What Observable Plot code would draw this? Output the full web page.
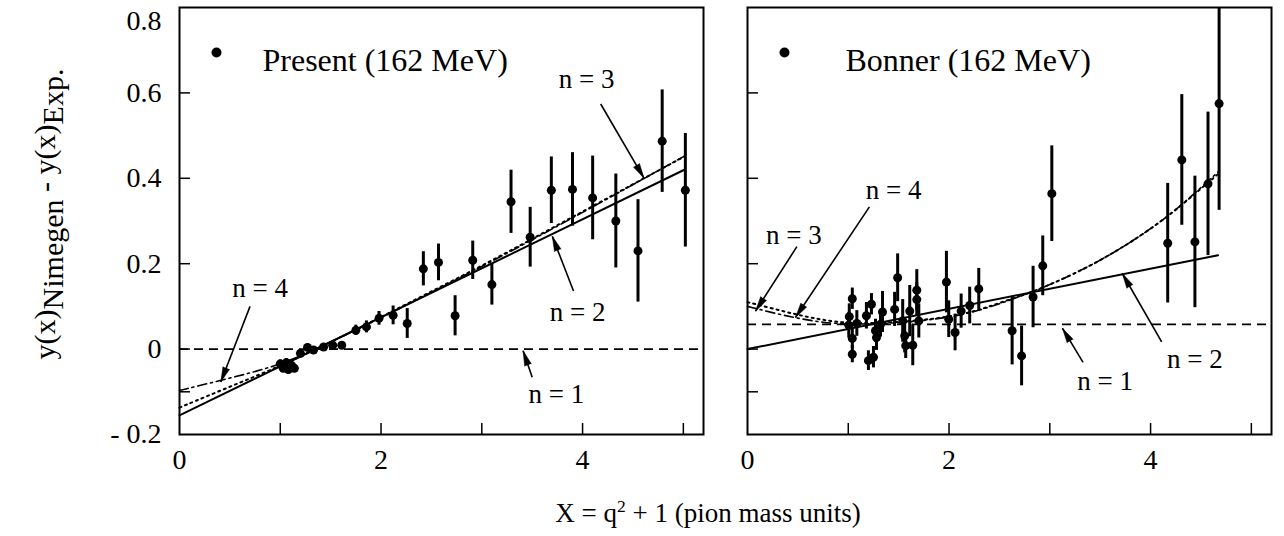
<!DOCTYPE html>
<html>
<head>
<meta charset="utf-8">
<script src="https://cdn.jsdelivr.net/npm/d3@7"></script>
<script src="https://cdn.jsdelivr.net/npm/@observablehq/plot@0.6"></script>
<style>
  body { margin: 0; background: #fff; }
  #wrap { position: relative; width: 1284px; height: 536px; font-family: "Liberation Serif", "Times New Roman", Tinos, "DejaVu Serif", serif; color: #000; overflow: hidden; }
  #left { position: absolute; left: 0; top: 0; }
  #right { position: absolute; left: 725px; top: 0; }
  #ylab { position: absolute; left: 45px; top: 214px; transform: translate(-50%, -50%) rotate(-90deg); white-space: nowrap; font-size: 30px; }
  #ylab .sub { position: relative; top: 0.28em; }
  #xlab { position: absolute; left: 708px; top: 512px; transform: translate(-50%, -50%); white-space: nowrap; font-size: 27px; }
  svg text { font-family: "Liberation Serif", "Times New Roman", Tinos, "DejaVu Serif", serif; }
</style>
</head>
<body>
<div id="wrap">
  <div id="left"></div>
  <div id="right"></div>
  <div id="ylab">y(x)<span class="sub">Nimegen</span> - y(x)<span class="sub">Exp.</span></div>
  <div id="xlab">X = q<sup style="font-size:0.65em">2</sup> + 1 (pion mass units)</div>
</div>
<script>
// ---------- axis definitions ----------
const xDomain = [0, 5.2];
const yDomain = [-0.2, 0.8];
const xTickMarks = [1, 2, 3, 4, 5];
const yTickMarks = [-0.1, 0, 0.2, 0.4, 0.6];
const xTickLabels = [0, 2, 4];
const yTickLabels = [-0.2, 0, 0.2, 0.4, 0.6];
const yTopLabel = [0.8];

// ---------- left panel: Present (162 MeV) ----------
const presentX = [1.00, 1.03, 1.06, 1.08, 1.11, 1.14, 1.20, 1.27, 1.33, 1.43, 1.52, 1.61, 1.75, 1.855, 1.98, 2.12, 2.26, 2.42, 2.57, 2.735, 2.91, 3.10, 3.29, 3.48, 3.69, 3.90, 4.10, 4.33, 4.55, 4.79, 5.02];
const presentY = [-0.035, -0.045, -0.032, -0.048, -0.038, -0.045, -0.010, 0.004, -0.002, 0.005, 0.009, 0.009, 0.044, 0.052, 0.072, 0.079, 0.060, 0.188, 0.203, 0.078, 0.208, 0.151, 0.345, 0.262, 0.372, 0.374, 0.354, 0.300, 0.230, 0.487, 0.372];
const presentErr = [0.010, 0.010, 0.010, 0.010, 0.010, 0.010, 0.008, 0.008, 0.008, 0.008, 0.008, 0.008, 0.012, 0.014, 0.016, 0.022, 0.035, 0.040, 0.043, 0.047, 0.045, 0.048, 0.074, 0.070, 0.078, 0.086, 0.098, 0.110, 0.120, 0.120, 0.133];

const leftN1 = 0;
const leftN2X = [0, 5.01];
const leftN2Y = [-0.155, 0.42];
const leftN3X = [0, 0.5, 1, 1.5, 2, 2.5, 3, 3.5, 4, 4.5, 5.01];
const leftN3Y = [-0.137, -0.088, -0.040, 0.016, 0.075, 0.135, 0.195, 0.258, 0.322, 0.386, 0.451];
const leftN4X = [0, 0.5, 1, 1.5, 2, 2.5, 3, 3.5, 4, 4.5, 5.01];
const leftN4Y = [-0.097, -0.068, -0.038, 0.016, 0.073, 0.133, 0.193, 0.256, 0.320, 0.385, 0.452];

const leftLabelText = ["n = 4", "n = 3", "n = 2", "n = 1"];
const leftLabelX = [0.80, 4.04, 3.95, 3.74];
const leftLabelY = [0.143, 0.632, 0.085, -0.105];
const leftArrowX1 = [0.70, 4.18, 3.91, 3.50];
const leftArrowY1 = [0.100, 0.574, 0.136, -0.066];
const leftArrowX2 = [0.41, 4.61, 3.70, 3.41];
const leftArrowY2 = [-0.077, 0.400, 0.264, -0.004];

// ---------- right panel: Bonner (162 MeV) ----------
const bonnerX = [1.04, 1.01, 1.005, 1.04, 1.04, 1.085, 1.18, 1.20, 1.25, 1.23, 1.27, 1.28, 1.34, 1.32, 1.49, 1.46, 1.54, 1.56, 1.57, 1.61, 1.64, 1.68, 1.68, 1.70, 1.974, 1.997, 2.06, 2.12, 2.205, 2.295, 2.626, 2.72, 2.834, 2.93, 3.02, 4.17, 4.31, 4.44, 4.57, 4.68];
const bonnerY = [0.118, 0.076, 0.056, 0.025, -0.012, 0.060, 0.078, -0.027, -0.019, 0.105, 0.043, 0.027, 0.087, 0.058, 0.167, 0.093, 0.066, 0.031, 0.008, 0.089, 0.009, 0.138, 0.116, 0.066, 0.157, 0.070, 0.039, 0.089, 0.102, 0.141, 0.043, -0.016, 0.122, 0.195, 0.364, 0.248, 0.443, 0.251, 0.387, 0.575];
const bonnerErr = [0.025, 0.030, 0.030, 0.023, 0.020, 0.030, 0.031, 0.023, 0.025, 0.025, 0.027, 0.030, 0.048, 0.030, 0.056, 0.040, 0.050, 0.040, 0.030, 0.060, 0.048, 0.048, 0.040, 0.040, 0.072, 0.043, 0.043, 0.040, 0.043, 0.048, 0.080, 0.070, 0.072, 0.070, 0.112, 0.140, 0.153, 0.154, 0.168, 0.250];

const rightN1 = 0.058;
const rightN2X = [0, 4.67];
const rightN2Y = [0.0, 0.22];
const rightN3X = [0, 0.25, 0.5, 0.75, 1, 1.5, 2, 2.25, 2.5, 2.75, 3, 3.5, 4, 4.3, 4.67];
const rightN3Y = [0.110, 0.095, 0.080, 0.068, 0.060, 0.062, 0.075, 0.088, 0.108, 0.128, 0.150, 0.205, 0.280, 0.335, 0.410];
const rightN4X = [0, 0.25, 0.5, 0.75, 1, 1.5, 2, 2.25, 2.5, 2.75, 3, 3.5, 4, 4.3, 4.67];
const rightN4Y = [0.100, 0.085, 0.072, 0.062, 0.058, 0.060, 0.074, 0.087, 0.106, 0.127, 0.150, 0.205, 0.280, 0.335, 0.415];

const rightLabelText = ["n = 4", "n = 3", "n = 1", "n = 2"];
const rightLabelX = [1.45, 0.46, 3.55, 4.44];
const rightLabelY = [0.372, 0.267, -0.075, -0.023];
const rightArrowX1 = [1.21, 0.49, 3.33, 4.11];
const rightArrowY1 = [0.333, 0.240, -0.031, 0.017];
const rightArrowX2 = [0.476, 0.08, 3.125, 3.72];
const rightArrowY2 = [0.074, 0.089, 0.049, 0.177];

// ---------- helpers ----------
const FONT = '"Liberation Serif", "Times New Roman", Tinos, "DejaVu Serif", serif';
const H = 536, MT = 7, MB = 102, PW = 524, PH = H - MT - MB;
const kx = PW / (xDomain[1] - xDomain[0]);   // pixels per x unit
const ky = PH / (yDomain[1] - yDomain[0]);   // pixels per y unit

const zipXY = (xs, ys) => xs.map((x, i) => ({x, y: ys[i]}));
const zipPts = (xs, ys, es) => xs.map((x, i) => ({x, y: ys[i], lo: ys[i] - es[i], hi: ys[i] + es[i]}));
const zipLabels = (t, xs, ys) => t.map((s, i) => ({text: s, x: xs[i], y: ys[i]}));
const zipArrows = (x1, y1, x2, y2) => x1.map((v, i) => ({
  x1: v, y1: y1[i], x2: x2[i], y2: y2[i],
  angle: Math.atan2((x2[i] - v) * kx, (y2[i] - y1[i]) * ky) * 180 / Math.PI
}));

function panel({width, marginLeft, marginRight, pts, n1, n2, n3, n4, labels, arrows, legendText, legendDx, showYLabels}) {
  const marks = [
    Plot.ruleY([n1], {y: d => d, stroke: "black", strokeWidth: 1.6, strokeDasharray: "9,6"}),
    Plot.line(n4, {x: "x", y: "y", stroke: "black", strokeWidth: 1.6, strokeDasharray: "9,4,2,4", curve: "basis"}),
    Plot.line(n3, {x: "x", y: "y", stroke: "black", strokeWidth: 2, strokeDasharray: "2,4", curve: "basis"}),
    Plot.line(n2, {x: "x", y: "y", stroke: "black", strokeWidth: 2}),
    Plot.ruleX(pts, {x: "x", y1: "lo", y2: "hi", stroke: "black", strokeWidth: 3, clip: true}),
    Plot.dot(pts, {x: "x", y: "y", r: 4.5, fill: "black", stroke: "none"}),
    Plot.link(arrows, {x1: "x1", y1: "y1", x2: "x2", y2: "y2", stroke: "black", strokeWidth: 1.6}),
    Plot.vector(arrows, {x: "x2", y: "y2", rotate: "angle", length: 15, r: 3.5, shape: "spike", anchor: "end", fill: "black", stroke: "black", strokeWidth: 0.5}),
    Plot.text(labels, {x: "x", y: "y", text: "text", fontSize: 27, fill: "black"}),
    Plot.dot([0], {frameAnchor: "top-left", dx: 37, dy: 45, r: 5, fill: "black", stroke: "none"}),
    Plot.text([legendText], {frameAnchor: "top-left", dx: legendDx, dy: 41, textAnchor: "start", fontSize: 32, fill: "black"}),
    Plot.tickY(yTickMarks, {y: d => d, stroke: "black", strokeWidth: 1.5, insetRight: PW - 11}),
    Plot.tickX(xTickMarks, {x: d => d, stroke: "black", strokeWidth: 1.5, insetTop: PH - 11}),
    Plot.frame({stroke: "black", strokeWidth: 2}),
    Plot.text(xTickLabels, {x: d => d, frameAnchor: "bottom", dy: 34, text: d => String(d), fontSize: 28, fill: "black"})
  ];
  if (showYLabels) {
    marks.push(
      Plot.text(yTickLabels, {y: d => d, frameAnchor: "left", dx: -18, textAnchor: "end", fontSize: 28, fill: "black",
        text: d => d < 0 ? "- " + Math.abs(d).toFixed(1) : (d === 0 ? "0" : d.toFixed(1))}),
      Plot.text(yTopLabel, {y: d => d, frameAnchor: "left", dx: -18, dy: 14, textAnchor: "end", fontSize: 28, fill: "black",
        text: d => d.toFixed(1)})
    );
  }
  return Plot.plot({
    width, height: H,
    marginLeft, marginRight, marginTop: MT, marginBottom: MB,
    x: {domain: xDomain, axis: null},
    y: {domain: yDomain, axis: null},
    style: {fontFamily: FONT, background: "transparent", overflow: "visible"},
    marks
  });
}

document.getElementById("left").append(panel({
  width: 725, marginLeft: 179, marginRight: 725 - 179 - PW,
  pts: zipPts(presentX, presentY, presentErr),
  n1: leftN1,
  n2: zipXY(leftN2X, leftN2Y),
  n3: zipXY(leftN3X, leftN3Y),
  n4: zipXY(leftN4X, leftN4Y),
  labels: zipLabels(leftLabelText, leftLabelX, leftLabelY),
  arrows: zipArrows(leftArrowX1, leftArrowY1, leftArrowX2, leftArrowY2),
  legendText: "Present (162 MeV)", legendDx: 83, showYLabels: true
}));

document.getElementById("right").append(panel({
  width: 559, marginLeft: 22, marginRight: 559 - 22 - PW,
  pts: zipPts(bonnerX, bonnerY, bonnerErr),
  n1: rightN1,
  n2: zipXY(rightN2X, rightN2Y),
  n3: zipXY(rightN3X, rightN3Y),
  n4: zipXY(rightN4X, rightN4Y),
  labels: zipLabels(rightLabelText, rightLabelX, rightLabelY),
  arrows: zipArrows(rightArrowX1, rightArrowY1, rightArrowX2, rightArrowY2),
  legendText: "Bonner (162 MeV)", legendDx: 98, showYLabels: false
}));
</script>
</body>
</html>
